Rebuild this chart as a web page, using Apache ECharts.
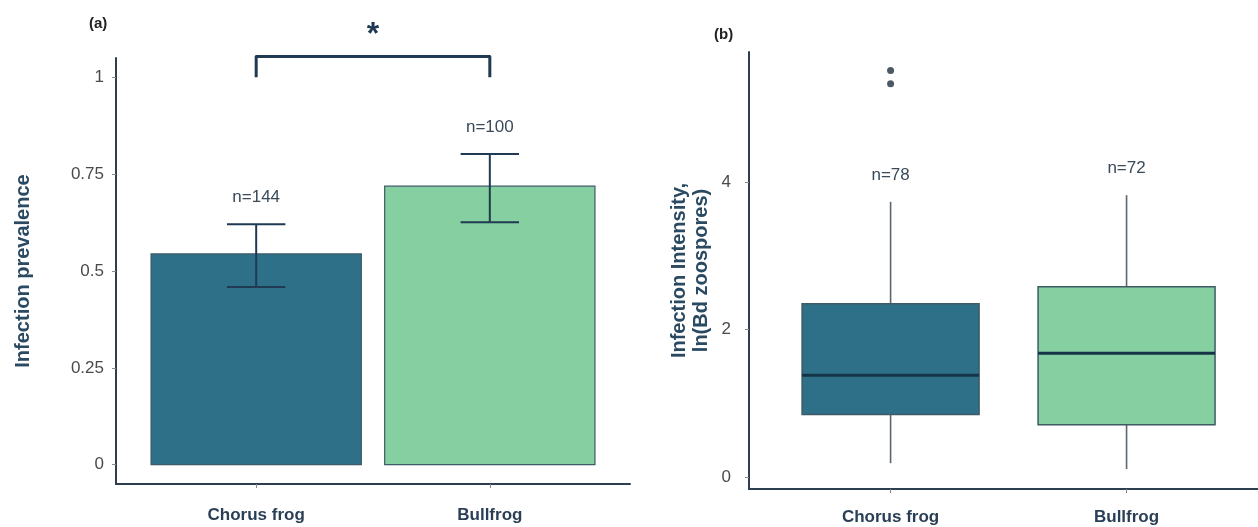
<!DOCTYPE html>
<html>
<head>
<meta charset="utf-8">
<script src="https://cdn.jsdelivr.net/npm/echarts@6/dist/echarts.min.js"></script>
<style>
  html, body { margin: 0; padding: 0; background: #fff; }
  #chart { width: 1258px; height: 527px; }
</style>
</head>
<body>
<div id="chart"></div>
<script>
  // categories and values
  var species = ['Chorus frog', 'Bullfrog']
  var prevalence = [0.544, 0.719]
  var prevLower = [0.459, 0.626]
  var prevUpper = [0.621, 0.802]
  var prevN = ['n=144', 'n=100']
  var prevTicks = [0, 0.25, 0.5, 0.75, 1]

  // [low whisker, Q1, median, Q3, high whisker]
  var intensityBox = [
    [0.19, 0.85, 1.38, 2.35, 3.73],
    [0.11, 0.71, 1.68, 2.58, 3.82]
  ]
  var intensityOutliers = [[1, 5.51], [1, 5.33]]
  var intensityN = ['n=78', 'n=72']
  var intensityTicks = [0, 2, 4]

  var fillColors = ['#2e7088', '#86cfa0']
  var inkColor = '#1f3a52'
  var axisColor = '#2c3e50'
  var font = '"Liberation Sans", Arial, sans-serif'

  var chart = echarts.init(document.getElementById('chart'))

  function catAxis(gridIndex, max, margin) {
    return {
      type: 'value',
      gridIndex: gridIndex,
      min: 0.4,
      max: max,
      axisLine: {show: true, onZero: false, lineStyle: {color: axisColor, width: 2}},
      axisTick: {show: true, customValues: [1, 2], length: 4, lineStyle: {color: '#888'}},
      axisLabel: {
        customValues: [1, 2],
        margin: margin,
        fontFamily: font,
        fontWeight: 'bold',
        fontSize: 17,
        color: '#2a3f55',
        formatter: function (v) { return species[Math.round(v) - 1] }
      },
      splitLine: {show: false}
    }
  }

  function valAxis(gridIndex, min, max, ticks, name, nameGap, margin) {
    return {
      type: 'value',
      gridIndex: gridIndex,
      min: min,
      max: max,
      name: name,
      nameLocation: 'middle',
      nameGap: nameGap,
      nameTextStyle: {fontFamily: font, fontWeight: 'bold', fontSize: 20, color: '#2a4a62', lineHeight: 22},
      axisLine: {show: true, onZero: false, lineStyle: {color: axisColor, width: 2}},
      axisTick: {show: true, customValues: ticks, length: 4, lineStyle: {color: '#888'}},
      axisLabel: {customValues: ticks, margin: margin, fontFamily: font, fontSize: 17, color: '#4a4a4a'},
      splitLine: {show: false}
    }
  }

  var barData = []
  var errData = []
  for (var i = 0; i < species.length; i++) {
    barData.push([i + 1, prevalence[i]])
    errData.push([i + 1, prevLower[i], prevUpper[i]])
  }

  var boxData = []
  for (var j = 0; j < intensityBox.length; j++) {
    boxData.push([j + 1].concat(intensityBox[j]))
  }

  chart.setOption({
    animation: false,
    title: [
      {text: '(a)', left: 84, top: 11, textStyle: {fontFamily: font, fontSize: 15, fontWeight: 'bold', color: '#222'}},
      {text: '(b)', left: 709, top: 22, textStyle: {fontFamily: font, fontSize: 15, fontWeight: 'bold', color: '#222'}}
    ],
    grid: [
      {left: 116, top: 58, right: 628, bottom: 43},
      {left: 749, top: 52, right: 0, bottom: 38}
    ],
    xAxis: [catAxis(0, 2.6, 23), catAxis(1, 2.557, 20)],
    yAxis: [
      valAxis(0, -0.05, 1.05, prevTicks, 'Infection prevalence', 82, 12),
      valAxis(1, -0.16, 5.76, intensityTicks, 'Infection Intensity,\nln(Bd zoospores)', 37, 18)
    ],
    series: [
      {
        // prevalence bars
        type: 'custom',
        xAxisIndex: 0,
        yAxisIndex: 0,
        data: barData,
        renderItem: function (params, api) {
          var p0 = api.coord([api.value(0) - 0.45, api.value(1)])
          var p1 = api.coord([api.value(0) + 0.45, 0])
          return {
            type: 'rect',
            shape: {x: p0[0], y: p0[1], width: p1[0] - p0[0], height: p1[1] - p0[1]},
            style: {fill: fillColors[params.dataIndex], stroke: '#3d5a66', lineWidth: 1.2}
          }
        }
      },
      {
        // error bars with sample sizes
        type: 'custom',
        xAxisIndex: 0,
        yAxisIndex: 0,
        data: errData,
        renderItem: function (params, api) {
          var x = api.value(0)
          var lo = api.coord([x, api.value(1)])
          var hi = api.coord([x, api.value(2)])
          var half = api.size([0.125, 0])[0]
          var st = {stroke: inkColor, lineWidth: 2}
          return {
            type: 'group',
            children: [
              {type: 'line', shape: {x1: lo[0], y1: lo[1], x2: hi[0], y2: hi[1]}, style: st},
              {type: 'line', shape: {x1: lo[0] - half, y1: lo[1], x2: lo[0] + half, y2: lo[1]}, style: st},
              {type: 'line', shape: {x1: hi[0] - half, y1: hi[1], x2: hi[0] + half, y2: hi[1]}, style: st},
              {
                type: 'text',
                style: {
                  x: hi[0], y: hi[1] - 27, text: prevN[params.dataIndex],
                  align: 'center', verticalAlign: 'middle',
                  font: '17px ' + font, fill: '#3a4a5a'
                }
              }
            ]
          }
        }
      },
      {
        // significance bracket
        type: 'custom',
        xAxisIndex: 0,
        yAxisIndex: 0,
        clip: false,
        data: [[1, 2, 1.0, 1.054]],
        renderItem: function (params, api) {
          var a = api.coord([api.value(0), api.value(2)])
          var b = api.coord([api.value(0), api.value(3)])
          var c = api.coord([api.value(1), api.value(3)])
          var d = api.coord([api.value(1), api.value(2)])
          return {
            type: 'group',
            children: [
              {
                type: 'polyline',
                shape: {points: [a, b, c, d]},
                style: {stroke: inkColor, lineWidth: 3, lineJoin: 'round', fill: null}
              },
              {
                type: 'text',
                style: {
                  x: (b[0] + c[0]) / 2, y: b[1] - 21, text: '*',
                  align: 'center', verticalAlign: 'middle',
                  font: 'bold 32px ' + font, fill: inkColor
                }
              }
            ]
          }
        }
      },
      {
        // intensity boxplots
        type: 'custom',
        xAxisIndex: 1,
        yAxisIndex: 1,
        data: boxData,
        renderItem: function (params, api) {
          var x = api.value(0)
          var low = api.coord([x, api.value(1)])
          var q1 = api.coord([x - 0.375, api.value(2)])
          var med = api.coord([x, api.value(3)])
          var q3 = api.coord([x + 0.375, api.value(4)])
          var high = api.coord([x, api.value(5)])
          var whisk = {stroke: '#5a6670', lineWidth: 1.6}
          return {
            type: 'group',
            children: [
              {type: 'line', shape: {x1: low[0], y1: low[1], x2: low[0], y2: q1[1]}, style: whisk},
              {type: 'line', shape: {x1: high[0], y1: q3[1], x2: high[0], y2: high[1]}, style: whisk},
              {
                type: 'rect',
                shape: {x: q1[0], y: q3[1], width: q3[0] - q1[0], height: q1[1] - q3[1]},
                style: {fill: fillColors[params.dataIndex], stroke: '#3d5a66', lineWidth: 1.5}
              },
              {type: 'line', shape: {x1: q1[0], y1: med[1], x2: q3[0], y2: med[1]}, style: {stroke: '#163447', lineWidth: 3}},
              {
                type: 'text',
                style: {
                  x: high[0], y: high[1] - 27, text: intensityN[params.dataIndex],
                  align: 'center', verticalAlign: 'middle',
                  font: '17px ' + font, fill: '#3a4a5a'
                }
              }
            ]
          }
        }
      },
      {
        type: 'scatter',
        xAxisIndex: 1,
        yAxisIndex: 1,
        data: intensityOutliers,
        symbolSize: 7,
        itemStyle: {color: '#1f2f3f'}
      }
    ]
  })
</script>
</body>
</html>
